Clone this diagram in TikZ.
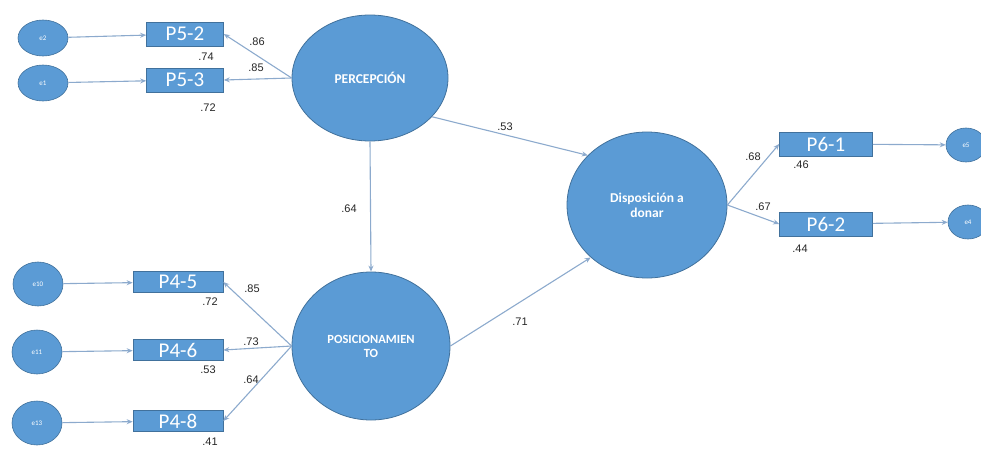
\documentclass[tikz,border=0pt]{standalone}
\usepackage{fontspec}
\setmainfont{Carlito}
\newfontfamily\numfont{Liberation Sans}
\usetikzlibrary{shapes.geometric,arrows.meta}
\definecolor{nodefill}{RGB}{91,155,213}
\definecolor{nodeedge}{RGB}{65,113,156}
\definecolor{linecol}{RGB}{140,170,205}
\tikzset{
  errnode/.style={ellipse,fill=nodefill,draw=nodeedge,line width=0.6pt,inner sep=0pt,
    minimum width=50pt,minimum height=36pt,text=white,font=\fontsize{7}{7}\selectfont},
  latnode/.style={ellipse,fill=nodefill,draw=nodeedge,line width=0.8pt,inner sep=0pt,
    text=white,font=\bfseries\fontsize{13.5}{15}\selectfont,align=center},
  obsnode/.style={rectangle,fill=nodefill,draw=nodeedge,line width=0.6pt,inner sep=0pt,
    text=white,font=\fontsize{21}{21}\selectfont},
  conn/.style={draw=linecol,line width=1.1pt,-{Stealth[length=6pt,width=5pt]}},
  coef/.style={font=\numfont\fontsize{11}{11}\selectfont,inner sep=0pt,text=black!85}
}
\begin{document}
\begin{tikzpicture}[x=1pt,y=-1pt]
\useasboundingbox (0,0) rectangle (981,450);
% latent variables
\node[latnode,minimum width=156pt,minimum height=126pt] (perc) at (370,78) {PERCEPCI\'ON};
\node[latnode,minimum width=160pt,minimum height=146pt] (disp) at (647,205) {Disposici\'on a\\donar};
\node[latnode,minimum width=158pt,minimum height=148pt,font=\bfseries\fontsize{12.5}{14}\selectfont] (pos) at (371,346) {POSICIONAMIEN\\TO};
% observed
\node[obsnode,minimum width=77pt,minimum height=24pt] (p52) at (185,34) {P5-2};
\node[obsnode,minimum width=77pt,minimum height=24pt] (p53) at (185,80) {P5-3};
\node[obsnode,minimum width=90pt,minimum height=21pt] (p45) at (178,282) {P4-5};
\node[obsnode,minimum width=90pt,minimum height=21pt] (p46) at (178,350) {P4-6};
\node[obsnode,minimum width=90pt,minimum height=21pt] (p48) at (178,421) {P4-8};
\node[obsnode,minimum width=93pt,minimum height=24pt] (p61) at (826,144) {P6-1};
\node[obsnode,minimum width=93pt,minimum height=24pt] (p62) at (826,224) {P6-2};
% errors
\node[errnode] (e2) at (43,38) {e2};
\node[errnode] (e1) at (43,83) {e1};
\node[errnode,minimum height=44pt] (e10) at (38,284) {e10};
\node[errnode,minimum height=44pt] (e11) at (37,352) {e11};
\node[errnode,minimum height=44pt] (e13) at (37,423) {e13};
\node[errnode,minimum width=40pt,minimum height=34pt] (e5) at (966,145) {e5};
\node[errnode,minimum width=40pt,minimum height=34pt] (e4) at (968,222) {e4};
% connectors
\draw[conn] (e2) -- (p52);
\draw[conn] (e1) -- (p53);
\draw[conn] (e10) -- (p45);
\draw[conn] (e11) -- (p46);
\draw[conn] (e13) -- (p48);
\draw[conn] (p61) -- (e5);
\draw[conn] (p62) -- (e4);
\draw[conn] (perc.west) -- (p52.east);
\draw[conn] (perc.west) -- (p53.east);
\draw[conn] (pos.west) -- (p45.east);
\draw[conn] (pos.west) -- (p46.east);
\draw[conn] (pos.west) -- (p48.east);
\draw[conn] (disp.east) -- (p61.west);
\draw[conn] (disp.east) -- (p62.west);
\draw[conn] (perc.-32) -- (disp.140);
\draw[conn] (perc.south) -- (pos.north);
\draw[conn] (pos.east) -- (disp.223);
% coefficients
\node[coef] (c1) at (257,42) {.86};
\node[coef] (c2) at (256,68) {.85};
\node[coef] (c3) at (206,57) {.74};
\node[coef] (c4) at (208,108) {.72};
\node[coef] (c5) at (252,289) {.85};
\node[coef] (c6) at (251,342) {.73};
\node[coef] (c7) at (251,380) {.64};
\node[coef] (c8) at (210,302) {.72};
\node[coef] (c9) at (208,370) {.53};
\node[coef] (c10) at (210,442) {.41};
\node[coef] (c11) at (505,127) {.53};
\node[coef] (c12) at (349,209) {.64};
\node[coef] (c13) at (520,322) {.71};
\node[coef] (c14) at (753,157) {.68};
\node[coef] (c15) at (763,207) {.67};
\node[coef] (c16) at (801,165) {.46};
\node[coef] (c17) at (800,249) {.44};
\end{tikzpicture}
\end{document}
